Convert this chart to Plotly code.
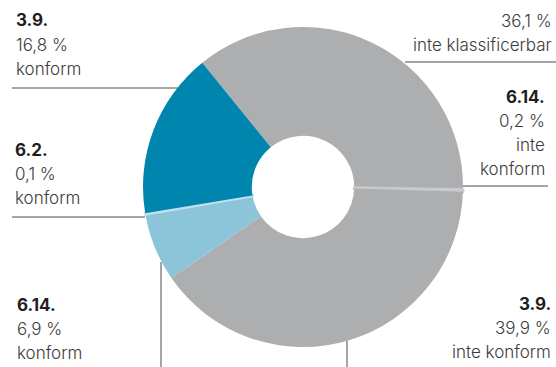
import plotly.graph_objects as go

# Slice data, clockwise from the upper-left boundary
categories = ["inte klassificerbar", "6.14. inte konform", "3.9. inte konform",
              "6.14. konform", "6.2. konform", "3.9. konform"]
shares = [36.1, 0.2, 39.9, 6.9, 0.1, 16.8]
colors = ["#adaeb0", "#c9cacc", "#adaeb0", "#8cc4da", "#c1e1ef", "#0086ae"]
edge_widths = [0, 3, 0, 0, 3, 0]

W, H = 556, 367
CX, CY, R = 303, 187, 160

def px(x):
    return x / W

def py(y):
    return 1 - y / H

fig = go.Figure(go.Pie(
    labels=categories,
    values=shares,
    sort=False,
    direction="clockwise",
    rotation=-39,
    hole=0.32,
    marker=dict(colors=colors, line=dict(color=colors, width=edge_widths)),
    textinfo="none",
    hoverinfo="label+percent",
    domain=dict(x=[px(CX - R), px(CX + R)], y=[py(CY + R), py(CY - R)]),
    showlegend=False,
))

FONT = "Inter"
TXT = "#3c3c3c"
BOLD = "#1e1e1e"
SIZE = 17

# label blocks: (x, anchor, [(text, centre y, bold)])
blocks = [
    (14, "left", [("3.9.", 20, True), ("16,8 %", 45, False), ("konform", 69, False)]),
    (13, "left", [("6.2.", 150, True), ("0,1 %", 174, False), ("konform", 198, False)]),
    (15, "left", [("6.14.", 305, True), ("6,9 %", 329, False), ("konform", 353, False)]),
    (554, "right", [("36,1 %", 21, False), ("inte klassificerbar", 45, False)]),
    (547, "right", [("6.14.", 97, True), ("0,2 %", 121, False), ("inte", 145, False),
                    ("konform", 169, False)]),
    (553, "right", [("3.9.", 304, True), ("39,9 %", 328, False), ("inte konform", 352, False)]),
]

annotations = []
for x, anchor, lines in blocks:
    for text, y, bold in lines:
        annotations.append(dict(
            x=px(x), y=py(y), xref="paper", yref="paper",
            text=text,
            showarrow=False, xanchor=anchor, yanchor="middle",
            font=dict(family=FONT, size=SIZE, color=BOLD if bold else TXT,
                      weight=700 if bold else 300),
        ))

# leader lines (x0, y0, x1, y1)
leaders = [
    (12, 88, 178, 88),
    (12, 217, 145, 217),
    (161, 262, 161, 367),
    (405, 62, 556, 62),
    (463, 186, 548, 186),
    (347, 341, 347, 367),
]
shapes = [dict(type="line", xref="paper", yref="paper",
               x0=px(a), y0=py(b), x1=px(c), y1=py(d),
               line=dict(color="#4a4a4a", width=1))
          for a, b, c, d in leaders]

fig.update_layout(
    width=W, height=H,
    margin=dict(l=0, r=0, t=0, b=0),
    paper_bgcolor="white",
    plot_bgcolor="white",
    annotations=annotations,
    shapes=shapes,
)

fig.write_html("out.html")
